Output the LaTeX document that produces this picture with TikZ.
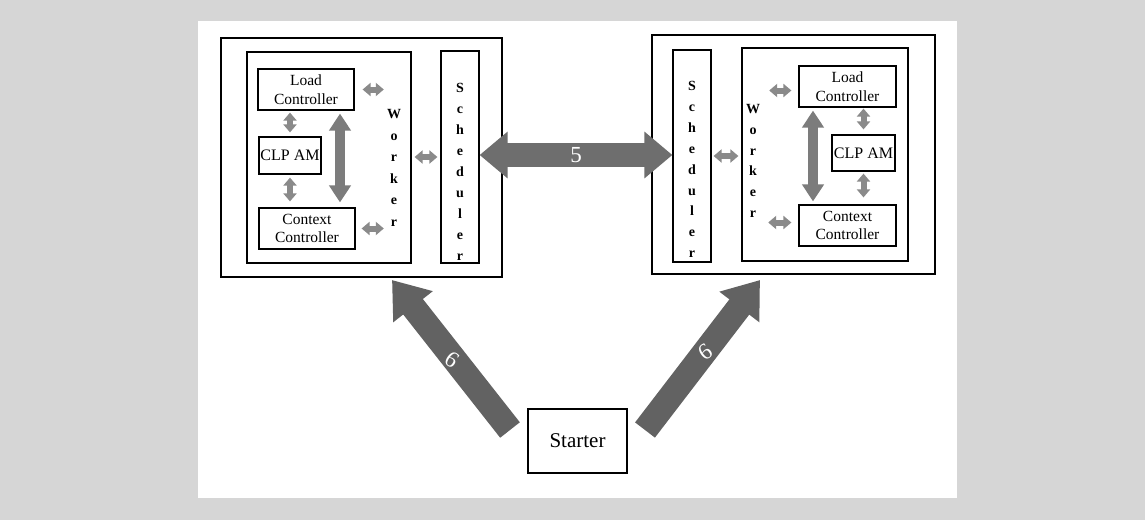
\documentclass[tikz,border=0pt]{standalone}
\usepackage{fontspec}
\setmainfont{Liberation Serif}
\usetikzlibrary{arrows.meta,calc}
\definecolor{bggray}{HTML}{D6D6D6}
\definecolor{arrdark}{HTML}{626262}
\definecolor{arrmid}{HTML}{6E6E6E}
\definecolor{arrsmall}{HTML}{8A8A8A}
\definecolor{arrvert}{HTML}{7C7C7C}
\tikzset{
  outerbox/.style={draw=black, line width=1.8pt, fill=white, inner sep=0pt},
  innerbox/.style={draw=black, line width=1.2pt, inner sep=0pt},
  compbox/.style={draw=black, line width=1.2pt, fill=white, inner sep=0pt, align=center,
    font=\fontsize{15.5}{18.5}\selectfont},
  letters/.style={inner sep=0pt, align=center, font=\bfseries\fontsize{14}{21}\selectfont},
  smallarrow/.style={draw=arrsmall, line width=6pt,
    {Triangle[length=8pt,width=13pt]}-{Triangle[length=8pt,width=13pt]}},
  vertarrow/.style={draw=arrvert, line width=10pt,
    {Triangle[length=17pt,width=21pt]}-{Triangle[length=17pt,width=21pt]}},
  bigarrow/.style={draw=arrmid, line width=24pt,
    {Triangle[length=28pt,width=45pt]}-{Triangle[length=28pt,width=45pt]}},
  startarrow/.style={draw=arrdark, line width=25pt, -{Triangle[length=34pt,width=48pt]}},
  arrlabel/.style={text=white, font=\fontsize{23}{25}\selectfont, inner sep=0pt}
}
\begin{document}
\begin{tikzpicture}[x=1pt,y=-1pt]
\useasboundingbox (0,0) rectangle (1145,520);
\fill[bggray] (0,0) rectangle (1145,520);
\fill[white] (198,21) rectangle (957,498);

% ---------- left node ----------
\node[outerbox, minimum width=281pt, minimum height=239pt] (lout) at (361.5,157.5) {};
\node[innerbox, minimum width=164pt, minimum height=211pt] (lworkbox) at (329,157.5) {};
\node[innerbox, minimum width=38pt, minimum height=212pt] (lsched) at (460,157) {};
\node[compbox, minimum width=96pt, minimum height=41pt] (lload) at (306,89.5) {Load\\Controller};
\node[compbox, minimum width=62pt, minimum height=37pt, font=\fontsize{16}{18}\selectfont] (lclp) at (290,155.5) {CLP AM};
\node[compbox, minimum width=96pt, minimum height=41pt] (lctx) at (307,228.5) {Context\\Controller};
\node[letters, font=\bfseries\fontsize{14}{21.6}\selectfont] (lworker) at (394,168) {W\\o\\r\\k\\e\\r};
\node[letters] (lschedtxt) at (460,172) {S\\c\\h\\e\\d\\u\\l\\e\\r};
\coordinate (lbig) at (340,157);

\draw[smallarrow, shorten <=8pt, shorten >=3pt] (lload.east) -- (lload.east -| lworker.west);
\draw[smallarrow, shorten <=6pt, shorten >=3pt] (lctx.east) -- (lctx.east -| lworker.west);
\draw[smallarrow, shorten <=3pt, shorten >=3pt] (lworkbox.east |- lsched.west) -- (lsched.west);
\draw[smallarrow, shorten <=2pt, shorten >=4pt] (lclp.north |- lload.south) -- (lclp.north);
\draw[smallarrow, shorten <=3pt, shorten >=6pt] (lclp.south) -- (lclp.south |- lctx.north);
\draw[vertarrow, shorten <=3pt, shorten >=5pt] (lbig |- lload.south) -- (lbig |- lctx.north);

% ---------- right node ----------
\node[outerbox, minimum width=283pt, minimum height=239pt] (rout) at (793.5,154.5) {};
\node[innerbox, minimum width=38pt, minimum height=212pt] (rsched) at (692,156) {};
\node[innerbox, minimum width=166pt, minimum height=213pt] (rworkbox) at (825,154.5) {};
\node[compbox, minimum width=97pt, minimum height=41pt] (rload) at (847.5,86.5) {Load\\Controller};
\node[compbox, minimum width=63pt, minimum height=36pt, font=\fontsize{16}{18}\selectfont] (rclp) at (863.5,153) {CLP AM};
\node[compbox, minimum width=97pt, minimum height=41pt] (rctx) at (847.5,225.5) {Context\\Controller};
\node[letters, font=\bfseries\fontsize{14}{20.8}\selectfont] (rworker) at (753,161) {W\\o\\r\\k\\e\\r};
\node[letters, font=\bfseries\fontsize{14}{20.9}\selectfont] (rschedtxt) at (692,169.5) {S\\c\\h\\e\\d\\u\\l\\e\\r};
\coordinate (rbig) at (813,156);

\draw[smallarrow, shorten <=2pt, shorten >=3pt] (rsched.east) -- (rsched.east -| rworkbox.west);
\draw[smallarrow, shorten <=9pt, shorten >=7pt] ([yshift=-4pt]rload.west -| rworker.east) -- ([yshift=-4pt]rload.west);
\draw[smallarrow, shorten <=8pt, shorten >=7pt] ([yshift=3pt]rctx.west -| rworker.east) -- ([yshift=3pt]rctx.west);
\draw[smallarrow, shorten <=1pt, shorten >=5pt] (rclp.north |- rload.south) -- (rclp.north);
\draw[smallarrow, shorten <=2pt, shorten >=7pt] (rclp.south) -- (rclp.south |- rctx.north);
\draw[vertarrow, shorten <=3pt, shorten >=3pt] (rbig |- rload.south) -- (rbig |- rctx.north);

% ---------- link 5 ----------
\draw[bigarrow] ([yshift=2pt]lsched.east) -- ([yshift=2pt]lsched.east -| rsched.west)
  node[midway, arrlabel] (five) {5};

% ---------- starter ----------
\node[compbox, line width=1.4pt, minimum width=99pt, minimum height=64pt,
  font=\fontsize{21}{24}\selectfont] (starter) at (577.5,441) {Starter};
\coordinate (l6tail) at (510,430);
\coordinate (l6tip) at (392,280);
\coordinate (r6tail) at (645,430);
\coordinate (r6tip) at (760,280);
\draw[startarrow] (l6tail) -- (l6tip);
\draw[startarrow] (r6tail) -- (r6tip);
\node[arrlabel, rotate=-35] (lsix) at (452,360) {6};
\node[arrlabel, rotate=35] (rsix) at (705,352) {6};
\end{tikzpicture}
\end{document}
